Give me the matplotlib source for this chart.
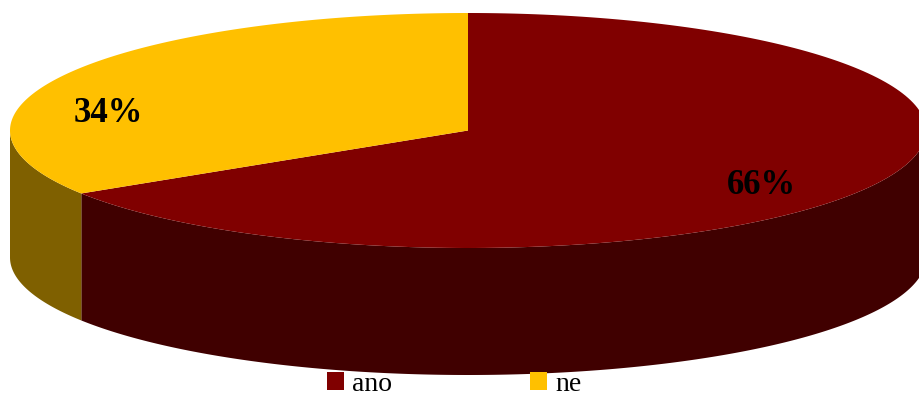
import numpy as np
import matplotlib.pyplot as plt
from matplotlib.patches import Polygon, Patch

labels = ['ano', 'ne']
shares = [66, 34]
top_colors = ['#800000', '#FFC000']
side_colors = ['#400000', '#7F6000']

W, H = 919, 399
cx, cy = 468, 130.5      # centre of the top ellipse (pixels)
rx, ry = 458, 117.5      # ellipse radii
depth = 127              # height of the cylinder wall

plt.rcParams['font.family'] = ['Liberation Serif', 'DejaVu Serif']

fig = plt.figure(figsize=(W / 100, H / 100), dpi=100)
ax = fig.add_axes([0, 0, 1, 1])
ax.set_xlim(0, W)
ax.set_ylim(H, 0)
ax.axis('off')


def arc(t0, t1, dy=0, n=200):
    t = np.radians(np.linspace(t0, t1, n))
    return np.column_stack([cx + rx * np.cos(t), cy - ry * np.sin(t) + dy])


# slices run clockwise from 12 o'clock
fracs = np.array(shares) / np.sum(shares)
edges = 90 - 360 * np.concatenate([[0], np.cumsum(fracs)])

# wall first (only the front half, angles between -180 and 0)
for i in range(len(shares)):
    a0, a1 = edges[i], edges[i + 1]   # a0 > a1
    for lo, hi in [(-180, 0), (-540, -360)]:
        s0, s1 = min(a0, hi), max(a1, lo)
        if s0 <= s1:
            continue
        top = arc(s0, s1)
        bot = arc(s1, s0, dy=depth)
        ax.add_patch(Polygon(np.vstack([top, bot]), closed=True,
                             facecolor=side_colors[i], edgecolor='none'))

# top face
for i in range(len(shares)):
    pts = np.vstack([[cx, cy], arc(edges[i], edges[i + 1])])
    ax.add_patch(Polygon(pts, closed=True, facecolor=top_colors[i],
                         edgecolor='none'))

# percentage labels
label_pos = [(761, 185), (108, 113)]
for (x, y), v in zip(label_pos, shares):
    ax.text(x, y, f'{v}%', ha='center', va='center', fontsize=25,
            fontweight='bold', color='black')

handles = [Patch(facecolor=c, edgecolor='none') for c in top_colors]
ax.legend(handles, labels, ncol=2, loc='lower center',
          bbox_to_anchor=(0.494, -0.058), frameon=False, fontsize=20,
          handlelength=0.62, handleheight=0.62, handletextpad=0.3,
          columnspacing=4.95)

fig.savefig('out.png', dpi=100)
